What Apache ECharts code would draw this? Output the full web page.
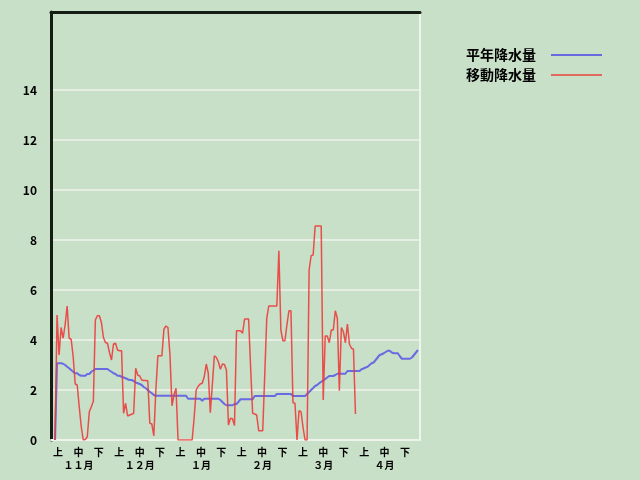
<!DOCTYPE html>
<html><head><meta charset="utf-8">
<script src="https://cdn.jsdelivr.net/npm/echarts@6/dist/echarts.min.js"></script>
<style>html,body{margin:0;padding:0;background:#c8dfc8}#c{width:640px;height:480px}</style>
</head><body><div id="c"></div>
<script>
const monthLabels = ['１１月','１２月','１月','２月','３月','４月'];
const periodLabels = ['上','中','下'];
const seriesNames = ['平年降水量','移動降水量'];

// daily values, Nov 1 .. Apr 30
const normalRain = [
  0, 3.07, 3.07, 3.07, 3.05, 3.0, 2.93, 2.87, 2.8, 2.73,
  2.67, 2.67, 2.6, 2.57, 2.57, 2.57, 2.64, 2.64, 2.73, 2.78,
  2.84, 2.84, 2.84, 2.84, 2.84, 2.84, 2.84, 2.78, 2.73, 2.67,
  2.64, 2.57, 2.57, 2.53, 2.5, 2.47, 2.43, 2.4, 2.4, 2.36,
  2.3, 2.27, 2.24, 2.2, 2.12, 2.07, 2.0, 1.93, 1.87, 1.8,
  1.77, 1.77, 1.77, 1.77, 1.77, 1.77, 1.77, 1.77, 1.77, 1.77,
  1.77, 1.77, 1.77, 1.77, 1.77, 1.77, 1.65, 1.65, 1.65, 1.65,
  1.65, 1.65, 1.65, 1.57, 1.65, 1.65, 1.65, 1.65, 1.65, 1.65,
  1.65, 1.65, 1.6, 1.52, 1.44, 1.39, 1.39, 1.39, 1.39, 1.44,
  1.44, 1.53, 1.63, 1.63, 1.63, 1.63, 1.63, 1.63, 1.63, 1.76,
  1.76, 1.76, 1.76, 1.76, 1.76, 1.76, 1.76, 1.76, 1.76, 1.76,
  1.84, 1.84, 1.84, 1.84, 1.84, 1.84, 1.84, 1.84, 1.76, 1.76,
  1.76, 1.76, 1.76, 1.76, 1.76, 1.84, 1.92, 2.0, 2.08, 2.16,
  2.2, 2.27, 2.33, 2.38, 2.44, 2.5, 2.56, 2.56, 2.56, 2.6,
  2.65, 2.65, 2.65, 2.65, 2.65, 2.76, 2.76, 2.76, 2.76, 2.76,
  2.76, 2.76, 2.83, 2.86, 2.9, 2.93, 3.0, 3.07, 3.1, 3.2,
  3.3, 3.4, 3.43, 3.47, 3.52, 3.57, 3.57, 3.5, 3.47, 3.47,
  3.47, 3.35, 3.25, 3.25, 3.25, 3.25, 3.25, 3.3, 3.4, 3.5,
  3.6
];
const movingRain = [
  0, 5.0, 3.4, 4.5, 4.07, 4.6, 5.36, 4.07, 4.03, 3.33,
  2.24, 2.2, 1.33, 0.53, 0.0, 0.02, 0.13, 1.13, 1.33, 1.55,
  4.8, 4.97, 4.97, 4.7, 4.1, 3.9, 3.87, 3.5, 3.2, 3.84,
  3.87, 3.6, 3.57, 3.57, 1.07, 1.47, 0.96, 1.0, 1.03, 1.07,
  2.87, 2.6, 2.56, 2.4, 2.38, 2.38, 2.37, 0.67, 0.64, 0.17,
  2.0, 3.37, 3.37, 3.37, 4.43, 4.56, 4.5, 3.4, 1.37, 1.8,
  2.07, 0, 0, 0, 0, 0, 0, 0, 0, 0.9,
  2.0, 2.15, 2.24, 2.27, 2.53, 3.04, 2.67, 1.09, 2.2, 3.37,
  3.3, 3.13, 2.83, 3.04, 3.02, 2.8, 0.6, 0.87, 0.85, 0.58,
  4.37, 4.37, 4.37, 4.27, 4.84, 4.84, 4.84, 2.9, 1.07, 1.04,
  1.0, 0.37, 0.37, 0.37, 2.6, 4.87, 5.36, 5.36, 5.36, 5.36,
  5.36, 7.57, 4.4, 3.97, 3.97, 4.6, 5.17, 5.17, 1.49, 1.47,
  0, 1.17, 1.13, 0.5, 0, 0, 6.8, 7.37, 7.4, 8.56,
  8.56, 8.56, 8.56, 1.6, 4.16, 4.16, 3.89, 4.4, 4.4, 5.17,
  4.87, 1.97, 4.5, 4.33, 3.89, 4.64, 3.84, 3.67, 3.63, 1.04
];

const FONT = '"Noto Sans CJK JP", sans-serif';
const labelValues = [];
for (let k = 0; k < monthLabels.length * 3; k++) labelValues.push(1.5 + k * 10.12);
function xLabel(v) {
  const k = Math.round((v - 1.5) / 10.12);
  const p = k % 3;
  if (p === 1) return periodLabels[1] + '\n' + monthLabels[Math.floor(k / 3)];
  return periodLabels[p];
}

const chart = echarts.init(document.getElementById('c'), null, {renderer: 'canvas'});
chart.setOption({
  animation: false,
  backgroundColor: '#c8dfc8',
  grid: {left: 51, right: 220, top: 12, bottom: 40},
  legend: {
    orient: 'vertical', left: 466, top: 48, align: 'right', padding: 0,
    icon: 'rect', itemWidth: 51, itemHeight: 2, itemGap: 6,
    textStyle: {fontSize: 14, lineHeight: 14, fontWeight: 'bold', color: '#000', fontFamily: FONT, padding: [0, 10, 0, 0]},
    data: seriesNames
  },
  xAxis: [{
    type: 'value', min: -2, max: 181, position: 'bottom',
    axisLine: {onZero: false, lineStyle: {color: '#eef3ec', width: 2}},
    axisTick: {show: false},
    splitLine: {show: false},
    axisLabel: {
      customValues: labelValues, formatter: xLabel, margin: 6,
      fontSize: 10, fontWeight: 'bold', color: '#000', fontFamily: FONT, lineHeight: 13,
      verticalAlign: 'top'
    }
  }, {
    type: 'value', min: -2, max: 181, position: 'top',
    axisLine: {onZero: false, lineStyle: {color: '#141c14', width: 3}},
    axisTick: {show: false}, axisLabel: {show: false}, splitLine: {show: false}
  }],
  yAxis: [{
    type: 'value', min: 0, max: 17.12, interval: 2, position: 'left',
    axisLine: {show: true, onZero: false, lineStyle: {color: '#141c14', width: 3}},
    axisTick: {show: false},
    axisLabel: {
      margin: 14, fontSize: 12, fontWeight: 'bold', color: '#000', fontFamily: FONT,
      formatter: v => (v <= 14 && v % 2 === 0) ? String(v) : ''
    },
    splitLine: {
      show: true, showMaxLine: false,
      lineStyle: {width: 2, color: ['#e6eee4','#e6eee4','#e6eee4','#e6eee4','#e6eee4','#e6eee4','#e6eee4','#e6eee4','rgba(0,0,0,0)']}
    }
  }, {
    type: 'value', min: 0, max: 17.12, position: 'right',
    axisLine: {show: true, onZero: false, lineStyle: {color: '#eef3ec', width: 2}},
    axisTick: {show: false}, axisLabel: {show: false}, splitLine: {show: false}
  }],
  series: [{
    name: seriesNames[0], type: 'line', symbol: 'none',
    lineStyle: {color: '#5e5ee6', width: 2, opacity: 0.9},
    itemStyle: {color: '#6a6ae0'},
    data: normalRain.map((v, i) => [i, v])
  }, {
    name: seriesNames[1], type: 'line', symbol: 'none',
    lineStyle: {color: '#ee3434', width: 1.5, opacity: 0.85},
    itemStyle: {color: '#e06a5e'},
    data: movingRain.map((v, i) => [i, v])
  }]
});
</script></body></html>
